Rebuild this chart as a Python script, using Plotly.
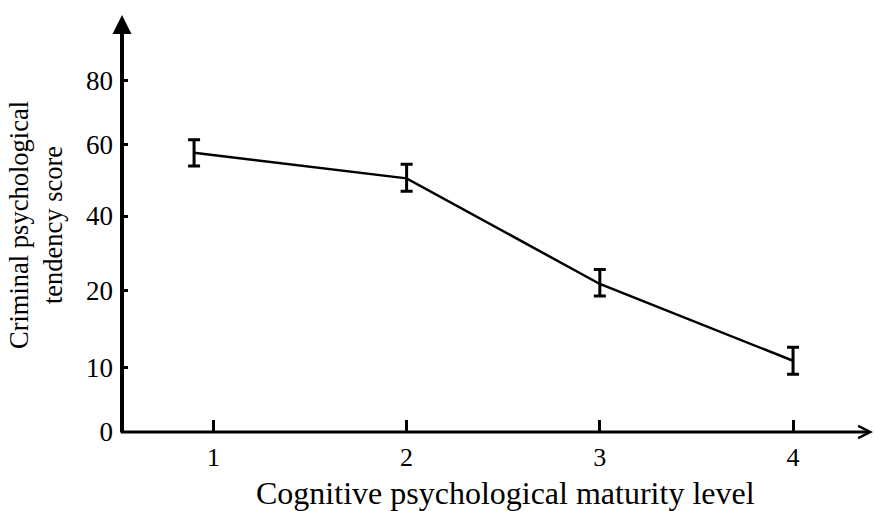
import numpy as np
import plotly.graph_objects as go

# ---- data ----
levels = [0.9, 2.0, 3.0, 4.0]                 # cognitive maturity level (x)
scores = [57.8, 50.6, 21.8, 10.9]             # mean criminal tendency score
err_plus = [3.8, 4.0, 3.9, 1.75]              # upper error (score units)
err_minus = [3.7, 3.6, 2.5, 1.9]              # lower error (score units)

x_tick_vals = [1, 2, 3, 4]
y_tick_labels = [0, 10, 20, 40, 60, 80]
# the reference's y axis is a broken (piecewise) scale: label -> axis position
y_axis_scale = [0, 0.915, 2.011, 3.074, 4.085, 5.0]


def to_axis(v):
    return np.interp(v, y_tick_labels, y_axis_scale)


y_mid = to_axis(np.array(scores))
y_hi = to_axis(np.array(scores) + np.array(err_plus))
y_lo = to_axis(np.array(scores) - np.array(err_minus))

FONT = "Liberation Serif"

fig = go.Figure()
fig.add_trace(go.Scatter(
    x=levels, y=y_mid, mode="lines",
    line=dict(color="black", width=2.5),
    error_y=dict(type="data", symmetric=False,
                 array=y_hi - y_mid, arrayminus=y_mid - y_lo,
                 color="black", thickness=3, width=6),
    showlegend=False, hoverinfo="skip",
))

fig.update_layout(
    width=874, height=511,
    margin=dict(l=122, r=0, t=15, b=79, pad=0),
    plot_bgcolor="white", paper_bgcolor="white",
    font=dict(family=FONT, color="black", size=27),
    xaxis=dict(range=[0.527, 4.419], tickvals=x_tick_vals,
               ticktext=[str(v) for v in x_tick_vals],
               ticks="inside", ticklen=12, tickwidth=3, tickcolor="black",
               showline=False, showgrid=False, zeroline=False,
               ticklabelstandoff=7,
               tickfont=dict(family=FONT, size=26, color="black")),
    yaxis=dict(range=[0, 5.935], tickvals=y_axis_scale,
               ticktext=[str(v) for v in y_tick_labels],
               ticks="inside", ticklen=6, tickwidth=3, tickcolor="black",
               showline=False, showgrid=False, zeroline=False,
               ticklabelstandoff=8,
               tickfont=dict(family=FONT, size=27, color="black")),
    annotations=[
        # y axis line with arrow
        dict(xref="paper", yref="paper", x=0, y=1, text="", showarrow=True,
             ax=0, ay=419, axref="pixel", ayref="pixel",
             arrowhead=2, arrowwidth=4, arrowsize=0.95, arrowcolor="black"),
        # x axis line with arrow
        dict(xref="paper", yref="paper", x=1.002, y=0, text="", showarrow=True,
             ax=-756, ay=0, axref="pixel", ayref="pixel",
             arrowhead=5, arrowwidth=3, arrowsize=0.8, arrowcolor="black"),
        # axis titles
        dict(xref="paper", yref="paper", x=(505 - 122) / 752, y=(432 - 493) / 417,
             text="Cognitive psychological maturity level", showarrow=False,
             xanchor="center", yanchor="middle",
             font=dict(family=FONT, size=32, color="black")),
        dict(xref="paper", yref="paper", x=(36 - 122) / 752, y=(432 - 225) / 417,
             text="Criminal psychological<br>tendency score", showarrow=False,
             textangle=-90, xanchor="center", yanchor="middle",
             font=dict(family=FONT, size=26.5, color="black")),
    ],
)

fig.write_html(
    "out.html",
    config={"displayModeBar": False},
    post_script="document.body.style.margin='0';document.body.style.overflow='hidden';",
)
